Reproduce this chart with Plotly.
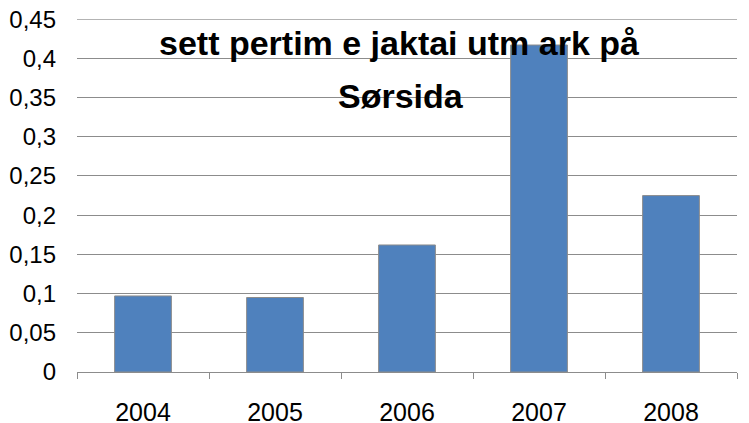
import plotly.graph_objects as go

years = ["2004", "2005", "2006", "2007", "2008"]
values = [0.097, 0.095, 0.162, 0.417, 0.225]
y_ticks = [0, 0.05, 0.1, 0.15, 0.2, 0.25, 0.3, 0.35, 0.4, 0.45]
y_tick_text = ["0", "0,05", "0,1", "0,15", "0,2", "0,25", "0,3", "0,35", "0,4", "0,45"]
title_lines = ["sett pertim e jaktai utm ark på", "Sørsida"]

fig = go.Figure()
fig.add_trace(go.Bar(
    x=years, y=values,
    marker=dict(color="#4F81BD", line=dict(color="#8C8C8C", width=1)),
    width=0.43,
))

# page body has an 8px margin; plot area should land at x 77..737, y 19.3..372.3
fig.update_layout(
    width=741, height=423,
    margin=dict(l=69, r=12, t=11.3, b=58.7),
    paper_bgcolor="white", plot_bgcolor="white",
    showlegend=False,
    font=dict(family="Liberation Sans, Arial, sans-serif", color="#000000"),
)
fig.update_xaxes(
    type="category", automargin=False,
    showline=True, linecolor="#8C8C8C", linewidth=1,
    ticks="outside", tickson="boundaries", ticklen=6, tickcolor="#8C8C8C",
    tickfont=dict(size=25, family="Liberation Sans, Arial"),
    ticklabelstandoff=18,
    showgrid=False,
)
fig.update_yaxes(
    range=[0, 0.4502], automargin=False,
    tickvals=y_ticks, ticktext=y_tick_text,
    ticklabeloverflow="allow",
    showgrid=True, gridcolor="#8C8C8C", gridwidth=1,
    showline=False, zeroline=False,
    tickfont=dict(size=24),
    ticklabelstandoff=20,
)

# top gridline (at the edge of the range, plotly skips it)
fig.add_shape(
    type="line", xref="paper", x0=0, x1=1, yref="y", y0=y_ticks[-1], y1=y_ticks[-1],
    line=dict(color="#8C8C8C", width=1), layer="below",
)

fig.add_annotation(
    text="<b>" + title_lines[0] + "</b>", xref="paper", yref="paper",
    x=(399 - 77) / 660, y=(372.3 - 43.5) / 353, xanchor="center", yanchor="middle",
    showarrow=False, font=dict(size=34, family="Liberation Sans, Arial", color="black"),
)
fig.add_annotation(
    text="<b>" + title_lines[1] + "</b>", xref="paper", yref="paper",
    x=(401 - 77) / 660, y=(372.3 - 96) / 353, xanchor="center", yanchor="middle",
    showarrow=False, font=dict(size=34, family="Liberation Sans, Arial", color="black"),
)

fig.write_html("out.html")
